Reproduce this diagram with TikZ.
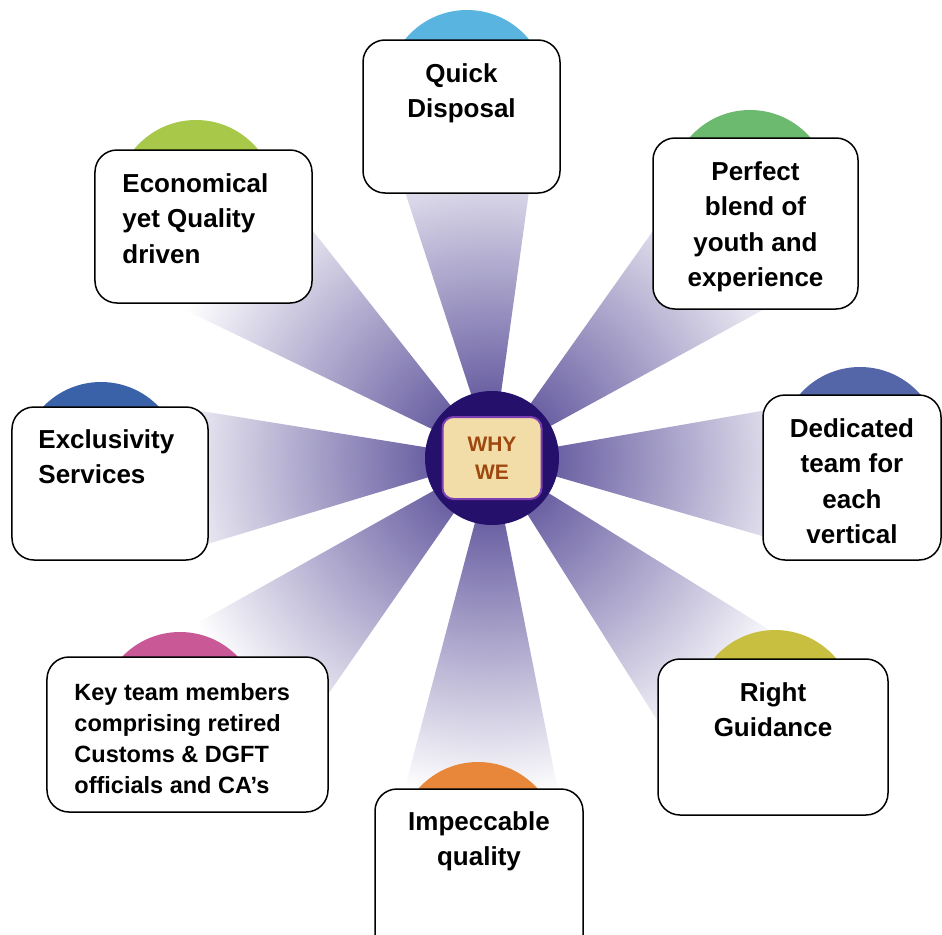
\documentclass[tikz,border=0pt]{standalone}
\usepackage{fontspec}
\setmainfont{Liberation Sans}
\usetikzlibrary{calc,positioning,backgrounds}
\definecolor{hubc}{RGB}{37,17,107}
\definecolor{tagc}{RGB}{242,221,168}
\definecolor{tagline}{RGB}{124,62,176}
\definecolor{whyc}{RGB}{158,72,16}
\definecolor{beamc}{RGB}{72,60,142}
\definecolor{cquick}{RGB}{90,180,224}
\definecolor{cblend}{RGB}{108,186,112}
\definecolor{cteam}{RGB}{84,102,168}
\definecolor{cguide}{RGB}{200,190,64}
\definecolor{cimpec}{RGB}{232,135,58}
\definecolor{ckey}{RGB}{200,88,150}
\definecolor{cexcl}{RGB}{58,98,168}
\definecolor{cecon}{RGB}{168,200,74}
\pgfdeclareradialshading{beamfade}{\pgfpoint{0bp}{0bp}}{color(0bp)=(beamc); color(25bp)=(white); color(50bp)=(white)}

\begin{document}
\begin{tikzpicture}[x=1bp,y=-1bp,
  card/.style={draw,line width=1.5bp,fill=white,rounded corners=22bp,inner sep=0pt},
  cardtxt/.style={font=\bfseries\fontsize{26bp}{35.5bp}\selectfont,align=center,inner sep=0pt},
  disc/.style={circle,minimum size=160bp,inner sep=0pt},
  hubdisc/.style={circle,fill=hubc,minimum size=134bp,inner sep=0pt},
  whytag/.style={draw=tagline,line width=2bp,fill=tagc,rounded corners=11bp,minimum width=99bp,minimum height=82bp,
    text=whyc,font=\bfseries\fontsize{21bp}{28bp}\selectfont,align=center,inner sep=0pt}]
  \useasboundingbox(0,0)rectangle(942,935);
  % coloured discs peeking out behind the cards
  \foreach \n/\c/\p in {dquick/cquick/{467,90},dblend/cblend/{750,190},dteam/cteam/{860,447},dguide/cguide/{775,710},
                        dimpec/cimpec/{478,842},dkey/ckey/{180,712},dexcl/cexcl/{101,462},decon/cecon/{196,200}}
  {
    \node[disc,fill=\c](\n)at(\p){};
  }
  \node[card,minimum width=197bp,minimum height=153bp](quick)at(461.5,116.5){};
  \node[card,minimum width=205bp,minimum height=171bp](blend)at(755.5,223.5){};
  \node[card,minimum width=178bp,minimum height=165bp](team)at(852,477.5){};
  \node[card,minimum width=230bp,minimum height=156bp](guide)at(773,737){};
  \node[card,minimum width=208bp,minimum height=170bp](impec)at(479,874){};
  \node[card,minimum width=281bp,minimum height=155bp](key)at(187.5,734.5){};
  \node[card,minimum width=196bp,minimum height=153bp](excl)at(110,483.5){};
  \node[card,minimum width=217bp,minimum height=153bp](econ)at(203.5,226.5){};

  \node[cardtxt,below=24bp of quick.north](tquick){Quick\\Disposal};
  \node[cardtxt,below=24bp of blend.north](tblend){Perfect\\blend of\\youth and\\experience};
  \node[cardtxt,below=24bp of team.north](tteam){Dedicated\\team for\\each\\vertical};
  \node[cardtxt,below=24bp of guide.north](tguide){Right\\Guidance};
  \node[cardtxt,below=23bp of impec.north](timpec){Impeccable\\quality};
  \node[cardtxt,align=left,below right=24bp and 28bp of econ.north west](tecon){Economical\\yet Quality\\driven};
  \node[cardtxt,align=left,below right=23bp and 27bp of excl.north west](texcl){Exclusivity\\Services};
  \node[cardtxt,align=left,font=\bfseries\fontsize{23.5bp}{31bp}\selectfont,
        below right=27bp and 28bp of key.north west](tkey){Key team members\\comprising retired\\Customs \& DGFT\\officials and CA’s};

  \node[hubdisc](hub)at(492,458){};
  \node[whytag](why)at(hub){WHY\\WE};

  % fading beams from the hub to every card
  \begin{scope}[on background layer]
    \fill[white](0,0)rectangle(942,935);
    \clip \foreach \b in {quick,blend,team,guide,impec,key,excl,econ}
      {(hub.center)--($(hub.center)!1!13:(\b.center)$)--($(hub.center)!1!-13:(\b.center)$)--cycle};
    \shade[shading=beamfade](hub.center)circle(340bp);
  \end{scope}
\end{tikzpicture}
\end{document}
